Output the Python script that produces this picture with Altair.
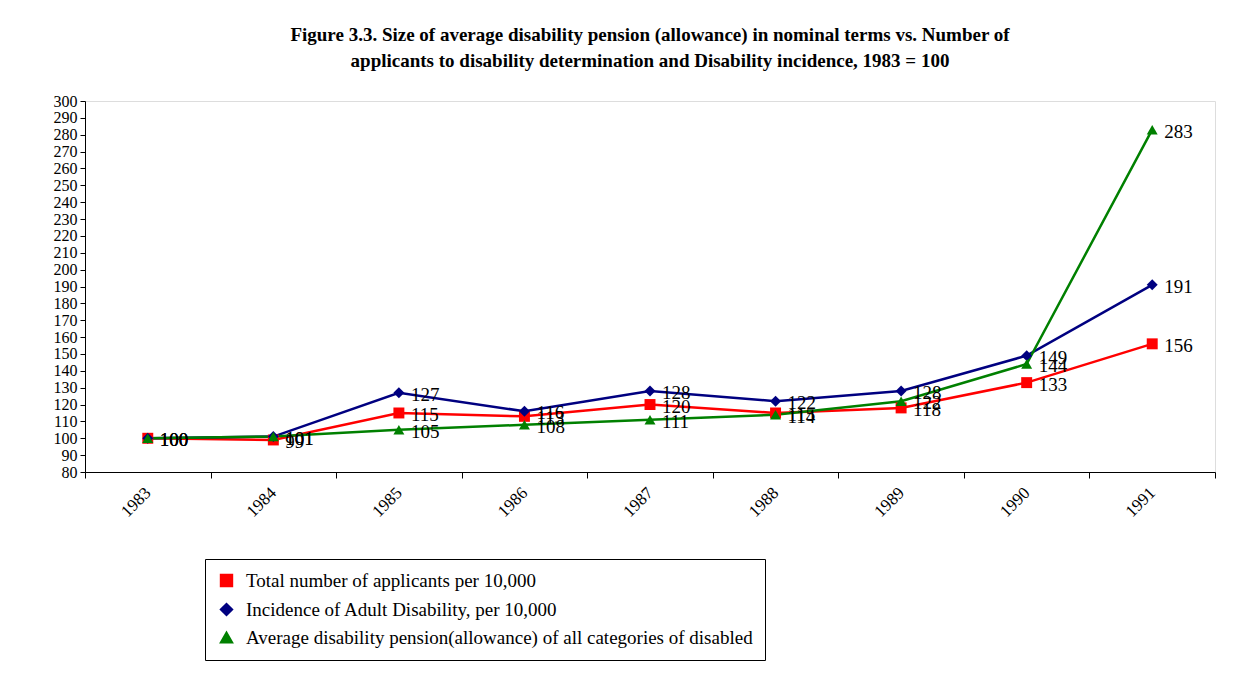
import altair as alt
import pandas as pd

years = ["1983", "1984", "1985", "1986", "1987", "1988", "1989", "1990", "1991"]
applicants = [100, 99, 115, 113, 120, 115, 118, 133, 156]
incidence = [100, 101, 127, 116, 128, 122, 128, 149, 191]
pension = [100, 101, 105, 108, 111, 114, 122, 144, 283]

names = [
    "Total number of applicants per 10,000",
    "Incidence of Adult Disability, per 10,000",
    "Average disability pension(allowance) of all categories of disabled",
]
rows = []
for name, vals in zip(names, [applicants, incidence, pension]):
    for y, v in zip(years, vals):
        rows.append({"Year": y, "Value": v, "Series": name})
df = pd.DataFrame(rows)

font = "Liberation Serif"
colors = ["#ff0000", "#000080", "#008000"]
color = alt.Color("Series:N", sort=names,
                  scale=alt.Scale(domain=names, range=colors),
                  legend=alt.Legend(title=None, orient="none", legendX=120, legendY=458,
                                    labelFont=font, labelFontSize=19, labelLimit=900,
                                    symbolSize=130, symbolStrokeWidth=2,
                                    rowPadding=8, padding=12, strokeColor="black",
                                    fillColor="white", labelColor="black", labelOffset=10))
shape = alt.Shape("Series:N", sort=names,
                  scale=alt.Scale(domain=names, range=["square", "diamond", "triangle-up"]))
x = alt.X("Year:N", sort=years, scale=alt.Scale(paddingInner=0, paddingOuter=0),
          axis=alt.Axis(title=None, labelAngle=-45, labelFont=font, labelFontSize=17,
                        labelColor="black", domainColor="black", tickColor="black",
                        tickBand="extent", tickSize=6, labelPadding=12, labelAlign="right",
                        labelBaseline="middle"))
y = alt.Y("Value:Q", scale=alt.Scale(domain=[80, 300]),
          axis=alt.Axis(title=None, values=list(range(80, 301, 10)), grid=False,
                        labelOverlap=False, labelFont=font, labelFontSize=16,
                        labelColor="black", domainColor="black", tickColor="black",
                        labelPadding=3))

base = alt.Chart(df).encode(x=x, y=y)
lines = base.mark_line(strokeWidth=2.5).encode(color=color)
points = base.mark_point(filled=True, opacity=1, size=120).encode(
    color=alt.Color("Series:N", sort=names, scale=alt.Scale(domain=names, range=colors)),
    shape=shape)
labels = base.mark_text(align="left", dx=12, dy=2, font=font, fontSize=19, color="black").encode(
    text="Value:Q")

chart = alt.layer(lines, points, labels).properties(
    width=1130, height=371,
    title=alt.Title(["Figure 3.3. Size of average disability pension (allowance) in nominal terms   vs. Number  of",
                     "applicants  to disability determination and Disability incidence, 1983 = 100"],
                    font=font, fontSize=19, fontWeight="bold", color="black", offset=22,
                    lineHeight=26),
).configure_view(stroke="black").configure(padding={"left": 45, "top": 18, "right": 10, "bottom": 10})

chart.save("out.html", embed_options={"renderer": "svg", "actions": False})
